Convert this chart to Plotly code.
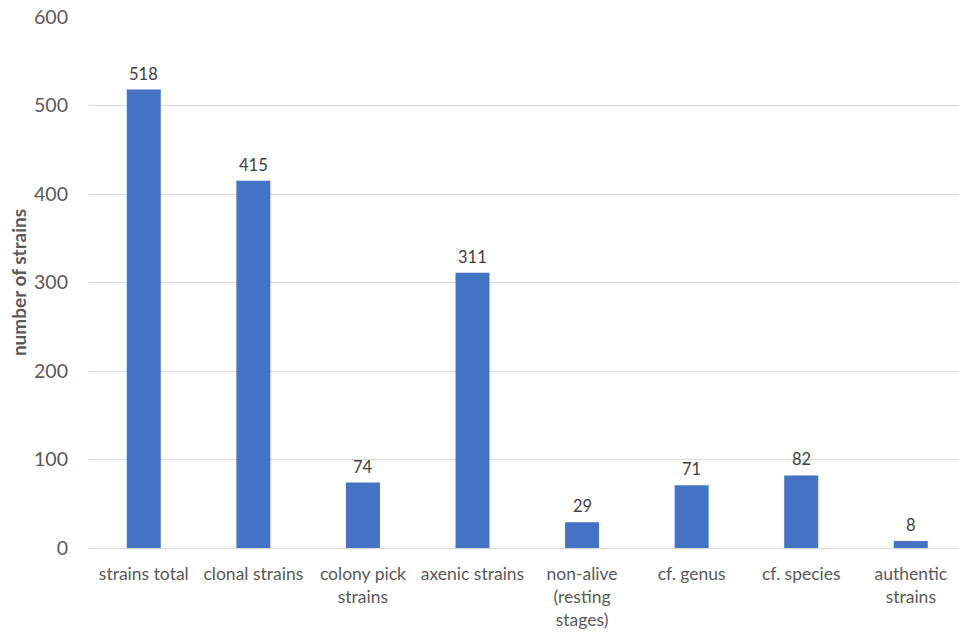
import plotly.graph_objects as go

categories = ["strains total", "clonal strains", "colony pick<br>strains", "axenic strains",
              "non-alive<br>(resting<br>stages)", "cf. genus", "cf. species", "authentic<br>strains"]
values = [518, 415, 74, 311, 29, 71, 82, 8]
y_ticks = [0, 100, 200, 300, 400, 500, 600]

FONT = "Lato, Open Sans, sans-serif"
GREY = "#595959"

x_pos = list(range(len(categories)))

fig = go.Figure(go.Bar(
    x=x_pos,
    y=values,
    width=0.31,
    marker=dict(color="#4472C4", line=dict(width=0)),
))

# value labels above each bar
for xi, v in zip(x_pos, values):
    fig.add_annotation(
        x=xi, y=v, text=str(v), showarrow=False,
        xanchor="center", yanchor="bottom", yshift=4,
        font=dict(family=FONT, size=16.5, color="#404040"),
    )

fig.update_layout(
    width=959, height=632,
    margin=dict(l=89, r=0, t=17, b=84),
    paper_bgcolor="white", plot_bgcolor="white",
    showlegend=False,
    font=dict(family=FONT, color=GREY),
    xaxis=dict(
        range=[-0.5, 7.44],
        tickmode="array",
        tickvals=x_pos,
        ticktext=categories,
        tickfont=dict(family=FONT, size=17.5, color=GREY),
        showgrid=False, zeroline=False,
        showline=True, linecolor="#d9d9d9", linewidth=1,
        ticks="", ticklabelstandoff=10,
    ),
    yaxis=dict(
        range=[0, 600],
        tickvals=y_ticks,
        tickfont=dict(family=FONT, size=19.5, color=GREY),
        showgrid=True, gridcolor="#d9d9d9", gridwidth=1,
        zeroline=False, showline=False, ticks="",
        ticklabelstandoff=20,
        title=dict(text="<b>number of strains</b>",
                   font=dict(family=FONT, size=19, color=GREY), standoff=2),
    ),
)

fig.write_html("out.html")
